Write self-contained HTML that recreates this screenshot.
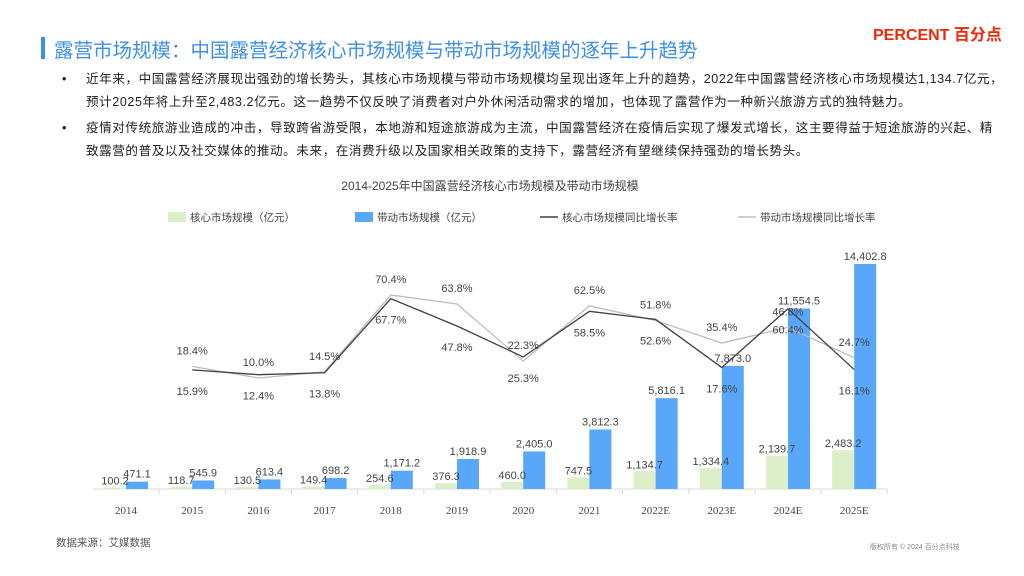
<!DOCTYPE html>
<html><head><meta charset="utf-8"><style>
body{margin:0;width:1024px;height:576px;background:#fff;position:relative;overflow:hidden;font-family:"Liberation Sans","Noto Sans CJK SC",sans-serif;color:#333}
.abs{position:absolute}
.t{font-size:12.6px;line-height:23px;color:#222;white-space:nowrap;letter-spacing:0.55px}
</style></head><body>
<div class="abs" style="left:41px;top:37px;width:4px;height:22px;background:#3d8fe8"></div>
<div class="abs" style="left:54px;top:34px;font-size:19.5px;color:#3d8fe8;white-space:nowrap">露营市场规模：中国露营经济核心市场规模与带动市场规模的逐年上升趋势</div>
<div class="abs" style="left:873px;top:21px;font-size:16px;font-weight:bold;color:#f0280a;white-space:nowrap">PERCENT 百分点</div>
<div class="abs t" style="left:62px;top:68px;width:940px"><span style="position:absolute;left:0">•</span><div style="margin-left:24px">近年来，中国露营经济展现出强劲的增长势头，其核心市场规模与带动市场规模均呈现出逐年上升的趋势，2022年中国露营经济核心市场规模达1,134.7亿元，<br>预计2025年将上升至2,483.2亿元。这一趋势不仅反映了消费者对户外休闲活动需求的增加，也体现了露营作为一种新兴旅游方式的独特魅力。</div></div>
<div class="abs t" style="left:62px;top:117px;width:940px"><span style="position:absolute;left:0">•</span><div style="margin-left:24px">疫情对传统旅游业造成的冲击，导致跨省游受限，本地游和短途旅游成为主流，中国露营经济在疫情后实现了爆发式增长，这主要得益于短途旅游的兴起、精<br>致露营的普及以及社交媒体的推动。未来，在消费升级以及国家相关政策的支持下，露营经济有望继续保持强劲的增长势头。</div></div>
<div class="abs" style="left:0;width:980px;text-align:center;top:177px;font-size:12px;color:#444">2014-2025年中国露营经济核心市场规模及带动市场规模</div>
<svg class="abs" style="left:0;top:0" width="1024" height="576" id="chart"></svg>
<div class="abs" style="left:56px;top:535px;font-size:10.5px;color:#555">数据来源：艾媒数据</div>
<div class="abs" style="left:870px;top:542px;font-size:7px;color:#888">版权所有 © 2024 百分点科技</div>
<script>
const categories=["2014","2015","2016","2017","2018","2019","2020","2021","2022E","2023E","2024E","2025E"];
const coreValues=[100.2,118.7,130.5,149.4,254.6,376.3,460.0,747.5,1134.7,1334.4,2139.7,2483.2];
const drivenValues=[471.1,545.9,613.4,698.2,1171.2,1918.9,2405.0,3812.3,5816.1,7873.0,11554.5,14402.8];
const coreGrowth=[null,15.9,12.4,13.8,67.7,47.8,25.3,58.5,52.6,17.6,60.4,16.1];
const drivenGrowth=[null,18.4,10.0,14.5,70.4,63.8,22.3,62.5,51.8,35.4,46.8,24.7];
const svg=document.getElementById('chart');const NS='http://www.w3.org/2000/svg';
function mk(tag,attrs,parent){const e=document.createElementNS(NS,tag);for(const k in attrs)e.setAttribute(k,attrs[k]);(parent||svg).appendChild(e);return e;}
const x=i=>126+i*66.2;
const yBar=v=>489-v*0.015623;
const yPct=v=>391.7-v*1.374;
const fmt=v=>v.toLocaleString('en-US',{minimumFractionDigits:1,maximumFractionDigits:1});
const ax=mk('line',{x1:93,x2:887,y1:489,y2:489,stroke:'#d9d9d9'});


categories.forEach((c,i)=>{
  const tk=mk('line',{x1:x(i)+33.1,x2:x(i)+33.1,y1:489,y2:494,stroke:'#d9d9d9'});
  
  
  const t=mk('text',{x:x(i),y:514,'text-anchor':'middle','font-size':'11','fill':'#444','font-family':'Liberation Serif, serif'});t.textContent=c;
  
  
  const g=mk('rect',{x:x(i)-22,y:yBar(coreValues[i]),width:22,height:489-yBar(coreValues[i]),fill:'#dcefc9'});
  
  
  const b=mk('rect',{x:x(i),y:yBar(drivenValues[i]),width:22,height:489-yBar(drivenValues[i]),fill:'#58a7f8'});
  
  
});
function line(vals,color,name){
  let d='';vals.forEach((v,i)=>{if(v==null)return;d+=(d?'L':'M')+x(i)+','+yPct(v);});
  const p=mk('path',{d:d,fill:'none',stroke:color,'stroke-width':1.3});
  
  
}
line(drivenGrowth,'#bdbdbd','line-driven-growth');
line(coreGrowth,'#404040','line-core-growth');
function lbl(tx,ty,s,name){const t=mk('text',{x:tx,y:ty,'text-anchor':'middle','font-size':'11','fill':'#444'});t.textContent=s;
  
  }
categories.forEach((c,i)=>{
  lbl(x(i)-11,yBar(coreValues[i])-3,fmt(coreValues[i]),'label-core');
  lbl(x(i)+11,yBar(drivenValues[i])-4,fmt(drivenValues[i]),'label-driven');
  if(coreGrowth[i]!=null){
    lbl(x(i),yPct(drivenGrowth[i])-12,drivenGrowth[i].toFixed(1)+'%','label-driven-growth');
    lbl(x(i),yPct(coreGrowth[i])+25,coreGrowth[i].toFixed(1)+'%','label-core-growth');
  }
});
const leg=[['rect','#dcefc9','核心市场规模（亿元）',168],['rect','#58a7f8','带动市场规模（亿元）',355],['line','#404040','核心市场规模同比增长率',540],['line','#bdbdbd','带动市场规模同比增长率',738]];
leg.forEach(l=>{
  let m;
  if(l[0]=='rect')m=mk('rect',{x:l[3],y:212,width:18,height:10,fill:l[1]});
  else m=mk('line',{x1:l[3],x2:l[3]+18,y1:217,y2:217,stroke:l[1],'stroke-width':1.5});
  
  
  const t=mk('text',{x:l[3]+22,y:221,'font-size':'10.5','fill':'#444'});t.textContent=l[2];
  
  
});
</script>
</body></html>
